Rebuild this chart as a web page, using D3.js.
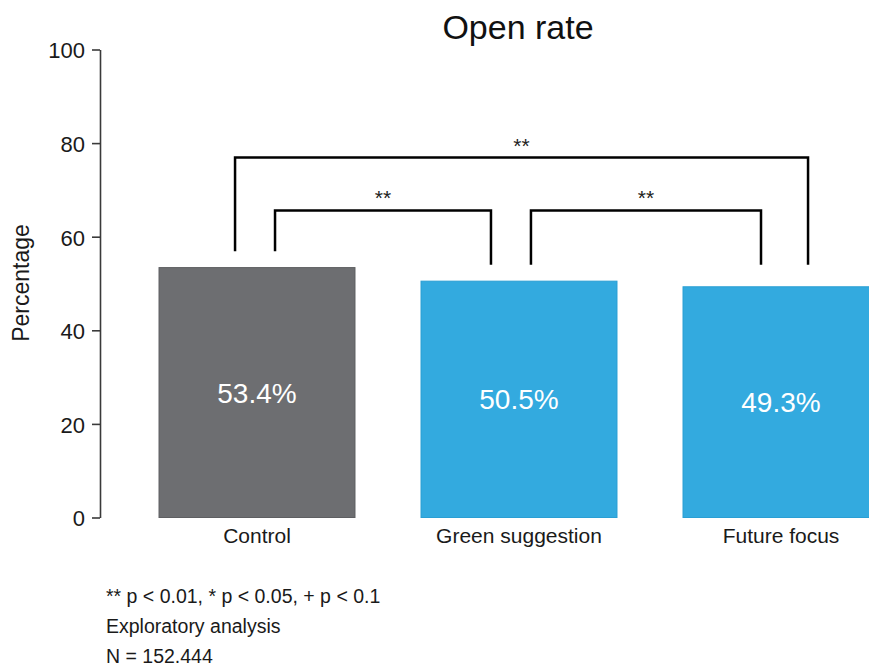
<!DOCTYPE html>
<html>
<head>
<meta charset="utf-8">
<script src="https://cdn.jsdelivr.net/npm/d3@7"></script>
<style>
  html, body { margin: 0; padding: 0; background: #fff; overflow: hidden; }
  svg { display: block; font-family: "Liberation Sans", Arial, sans-serif; }
</style>
</head>
<body>
<svg id="chart" width="869" height="664"></svg>
<script>
// ---- data ----
const title = "Open rate";
const yLabel = "Percentage";
const categories = ["Control", "Green suggestion", "Future focus"];
const values = [53.4, 50.5, 49.3];
const valueLabels = ["53.4%", "50.5%", "49.3%"];
const yTicks = [0, 20, 40, 60, 80, 100];
const comparisons = [["Control", "Green suggestion"], ["Green suggestion", "Future focus"], ["Control", "Future focus"]];
const sigLabels = ["**", "**", "**"];
const bracketLevels = [65.6, 65.6, 76.9];
const bracketLegEnds = [[56.9, 54.0], [54.0, 54.0], [56.9, 54.0]];
const footnotes = ["** p < 0.01, * p < 0.05, + p < 0.1", "Exploratory analysis", "N = 152.444"];

// ---- layout / style ----
const barColors = ["#6d6e71", "#33aadf", "#33aadf"];
const barStroke = ["#5e5f62", "#2a9fd4", "#2a9fd4"];
// leg positions as fraction of band width: [first category leg, second category leg] per comparison
const legFrac = [[0.592, 0.357], [0.561, 0.398], [0.388, 0.638]];

const svg = d3.select("#chart");

const x = d3.scaleBand()
  .domain(categories)
  .range([126, 912])
  .paddingInner(0.252)
  .paddingOuter(0.126);

const y = d3.scaleLinear().domain([0, 100]).range([517.5, 49.5]);

// bars
svg.append("g").selectAll("rect")
  .data(categories)
  .join("rect")
  .attr("x", d => x(d))
  .attr("y", (d, i) => y(values[i]))
  .attr("width", x.bandwidth())
  .attr("height", (d, i) => y(0) - y(values[i]))
  .attr("fill", (d, i) => barColors[i])
  .attr("stroke", (d, i) => barStroke[i])
  .attr("stroke-width", 1);

// value labels
svg.append("g").selectAll("text")
  .data(categories)
  .join("text")
  .attr("x", d => x(d) + x.bandwidth() / 2)
  .attr("y", (d, i) => (y(values[i]) + y(0)) / 2)
  .attr("dy", "0.36em")
  .attr("text-anchor", "middle")
  .attr("fill", "#ffffff")
  .attr("font-size", 28)
  .text((d, i) => valueLabels[i]);

// y axis
const yAxis = d3.axisLeft(y)
  .tickValues(yTicks)
  .tickSize(8)
  .tickSizeOuter(0)
  .tickPadding(7);

const ga = svg.append("g")
  .attr("transform", "translate(100,0)")
  .call(yAxis);
ga.select(".domain").attr("stroke", "#3a3a3a").attr("stroke-width", 1.6);
ga.selectAll(".tick line").attr("stroke", "#3a3a3a").attr("stroke-width", 1.6);
ga.selectAll(".tick text")
  .attr("font-size", 22)
  .attr("fill", "#1a1a1a")
  .attr("dy", "0.38em")
  .attr("font-family", "Liberation Sans, Arial, sans-serif");

// category labels
svg.append("g").selectAll("text")
  .data(categories)
  .join("text")
  .attr("x", d => x(d) + x.bandwidth() / 2)
  .attr("y", 543)
  .attr("text-anchor", "middle")
  .attr("fill", "#1a1a1a")
  .attr("font-size", 21)
  .text(d => d);

// y label
svg.append("text")
  .attr("transform", "translate(29,283) rotate(-90)")
  .attr("text-anchor", "middle")
  .attr("fill", "#1a1a1a")
  .attr("font-size", 23)
  .text(yLabel);

// title
svg.append("text")
  .attr("x", 518)
  .attr("y", 39)
  .attr("text-anchor", "middle")
  .attr("fill", "#111")
  .attr("font-size", 34)
  .text(title);

// significance brackets
const bg = svg.append("g");
comparisons.forEach((c, i) => {
  const x1 = x(c[0]) + x.bandwidth() * legFrac[i][0];
  const x2 = x(c[1]) + x.bandwidth() * legFrac[i][1];
  const top = y(bracketLevels[i]);
  const path = d3.path();
  path.moveTo(x1, y(bracketLegEnds[i][0]));
  path.lineTo(x1, top);
  path.lineTo(x2, top);
  path.lineTo(x2, y(bracketLegEnds[i][1]));
  bg.append("path")
    .attr("d", path.toString())
    .attr("fill", "none")
    .attr("stroke", "#000")
    .attr("stroke-width", 2.5);
  bg.append("text")
    .attr("x", (x1 + x2) / 2)
    .attr("y", top - 5)
    .attr("text-anchor", "middle")
    .attr("fill", "#222")
    .attr("font-size", 21)
    .text(sigLabels[i]);
});

// footnotes
svg.append("g").selectAll("text")
  .data(footnotes)
  .join("text")
  .attr("x", 106)
  .attr("y", (d, i) => 603 + i * 30)
  .attr("fill", "#1a1a1a")
  .attr("font-size", 19.5)
  .text(d => d);
</script>
</body>
</html>
